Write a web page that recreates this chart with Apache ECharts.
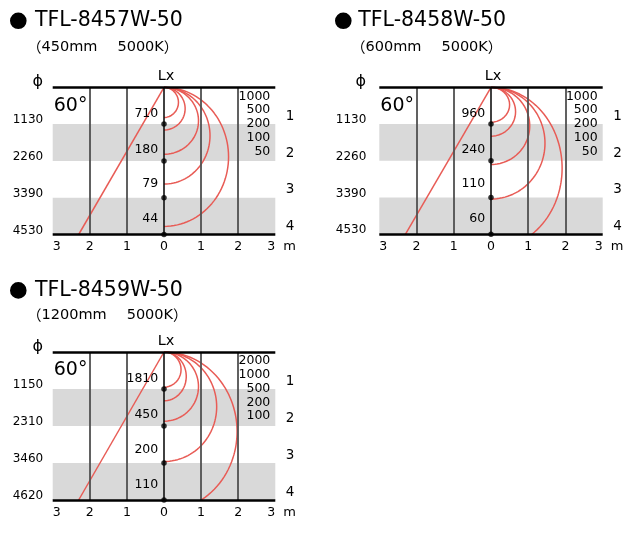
<!DOCTYPE html>
<html><head><meta charset="utf-8">
<script src="https://cdn.jsdelivr.net/npm/echarts/dist/echarts.min.js"></script>
<style>html,body{margin:0;padding:0;background:#fff}#c{width:640px;height:537px}</style>
</head><body><div id="c"></div>
<script>
// ---- data ----
const models = ['TFL-8457W-50', 'TFL-8458W-50', 'TFL-8459W-50'];
const specs = ['（450mm　5000K）', '（600mm　5000K）', '（1200mm　5000K）'];
const depthTicks = [1, 2, 3, 4];              // m below the fixture
const rightTickLabels = ['1', '2', '3', '4'];
const beamAngleLabel = '60°';
const diam1 = [1130, 2260, 3390, 4530];       // φ (mm) at each depth
const diam2 = [1130, 2260, 3390, 4530];
const diam3 = [1150, 2310, 3460, 4620];
const lux1 = [710, 180, 79, 44];              // centre illuminance (lx)
const lux2 = [960, 240, 110, 60];
const lux3 = [1810, 450, 200, 110];
const levels1 = [1000, 500, 200, 100, 50];    // isolux levels (lx)
const levels2 = [1000, 500, 200, 100, 50];
const levels3 = [2000, 1000, 500, 200, 100];
const isoDepth1 = [0.82, 1.16, 1.82, 2.63, 3.78]; // depth (m) where each isolux curve meets the axis
const isoWidth1 = [0.39, 0.57, 0.93, 1.24, 1.74]; // max half-width (m) of each isolux curve
const isoDepth2 = [0.95, 1.33, 2.10, 3.04, 4.40];
const isoWidth2 = [0.50, 0.66, 1.04, 1.45, 1.91];
const isoDepth3 = [0.95, 1.32, 1.87, 2.96, 4.30];
const isoWidth3 = [0.46, 0.60, 0.93, 1.42, 1.97];
const beamEdgeX = [-2.3, -2.3, -2.3];         // beam edge line reaches this x at 4 m

// ---- layout / style ----
const FONT = 'DejaVu Sans';
const RED = '#e85c56';
const INK = '#000';
const panels = [
  {model: models[0], spec: specs[0], diam: diam1, lux: lux1, levels: levels1, isoD: isoDepth1, isoW: isoWidth1, beam: beamEdgeX[0],
   left: 52.7, top: 87.3, gw: 222.6, gh: 147.2, bulletX: 18.3, titleX: 35, titleY: 20.8, subX: 27, subY: 47.7, lm: 9.5},
  {model: models[1], spec: specs[1], diam: diam2, lux: lux2, levels: levels2, isoD: isoDepth2, isoW: isoWidth2, beam: beamEdgeX[1],
   left: 379.3, top: 87.3, gw: 223.4, gh: 147.0, bulletX: 343.3, titleX: 358.3, titleY: 20.8, subX: 351, subY: 47.7, lm: 13},
  {model: models[2], spec: specs[2], diam: diam3, lux: lux3, levels: levels3, isoD: isoDepth3, isoW: isoWidth3, beam: beamEdgeX[2],
   left: 52.7, top: 352, gw: 222.6, gh: 148, bulletX: 18.3, titleX: 35, titleY: 290.4, subX: 27, subY: 315, lm: 9.5}
];
const luxOffsets = [-10, -11, -13.5, -15.5];

function arcPoints(depth, halfWidth) {
  const pts = [];
  for (let k = 0; k <= 120; k++) {
    const t = Math.PI * k / 120;
    pts.push([halfWidth * Math.sin(t), depth / 2 * (1 - Math.cos(t))]);
  }
  return pts;
}
// full-width brackets / space drawn with the CJK font
function richSpec(s) {
  return s.replace(/[（）]/g, c => '{w|' + c + '}').replace(/　/g, '{sp|　}');
}

const grid = [], xAxis = [], yAxis = [], series = [], graphic = [];
panels.forEach((p, i) => {
  grid.push({left: p.left, top: p.top, width: p.gw, height: p.gh});
  xAxis.push({
    type: 'value', gridIndex: i, min: -3, max: 3, interval: 1, position: 'bottom',
    axisLine: {show: false, onZero: false}, axisTick: {show: false}, splitLine: {show: false},
    axisLabel: {formatter: v => String(Math.abs(v)), fontSize: 12.5, fontFamily: FONT, color: INK, margin: 6,
                alignMinLabel: 'left', alignMaxLabel: 'right'},
    name: 'm', nameLocation: 'end', nameGap: 8,
    nameTextStyle: {fontSize: 13, fontFamily: FONT, color: INK, verticalAlign: 'top', padding: [6, 0, 0, 0]}
  });
  yAxis.push({
    type: 'value', gridIndex: i, min: 0, max: 4, interval: 1, inverse: true,
    axisLine: {show: false, onZero: false}, axisTick: {show: false}, splitLine: {show: false},
    axisLabel: {formatter: v => v === 0 ? '' : String(p.diam[depthTicks.indexOf(v)]), fontSize: 12, fontFamily: FONT,
                color: INK, margin: p.lm, verticalAlign: 'bottom', lineHeight: 8}
  });
  yAxis.push({
    type: 'value', gridIndex: i, min: 0, max: 4, interval: 1, inverse: true, position: 'right',
    axisLine: {show: false, onZero: false}, axisTick: {show: false}, splitLine: {show: false},
    axisLabel: {formatter: v => v === 0 ? '' : rightTickLabels[depthTicks.indexOf(v)], fontSize: 13.5, fontFamily: FONT,
                color: INK, margin: 10.5, verticalAlign: 'bottom', lineHeight: 15.5}
  });
  const xi = i, yi = 2 * i;
  // grey bands
  series.push({
    type: 'line', xAxisIndex: xi, yAxisIndex: yi, data: [], silent: true, z: 1,
    markArea: {silent: true, itemStyle: {color: '#d9d9d9'},
      data: [[{yAxis: 1}, {yAxis: 2}], [{yAxis: 3}, {yAxis: 4}]]}
  });
  // vertical grid lines
  series.push({
    type: 'line', xAxisIndex: xi, yAxisIndex: yi, data: [], silent: true, z: 2,
    markLine: {silent: true, symbol: ['none', 'none'], label: {show: false}, animation: false,
      lineStyle: {color: '#505050', width: 1.8, type: 'solid'},
      data: [{xAxis: -2}, {xAxis: -1}, {xAxis: 1}, {xAxis: 2}]}
  });
  // isolux curves
  p.isoD.forEach((d, k) => {
    series.push({
      type: 'line', name: p.levels[k] + ' lx', xAxisIndex: xi, yAxisIndex: yi, z: 3,
      data: arcPoints(d, p.isoW[k]), showSymbol: false, smooth: false, clip: true, silent: true,
      lineStyle: {color: RED, width: 1.5}
    });
  });
  // beam edge line
  series.push({
    type: 'line', xAxisIndex: xi, yAxisIndex: yi, z: 3, data: [[0, 0], [p.beam, 4]],
    showSymbol: false, clip: true, silent: true, lineStyle: {color: RED, width: 1.5}
  });
  // centre axis, top and bottom lines
  series.push({
    type: 'line', xAxisIndex: xi, yAxisIndex: yi, data: [], silent: true, z: 4,
    markLine: {silent: true, symbol: ['none', 'none'], label: {show: false}, animation: false,
      data: [
        {xAxis: 0, lineStyle: {color: '#111', width: 1.6, type: 'solid'}},
        {yAxis: 0, lineStyle: {color: '#000', width: 2.6, type: 'solid'}},
        {yAxis: 4, lineStyle: {color: '#000', width: 2.6, type: 'solid'}}
      ]}
  });
  // centre dots with lux values
  series.push({
    type: 'scatter', xAxisIndex: xi, yAxisIndex: yi, z: 5, silent: true,
    data: depthTicks.map((d, k) => ({value: [0, d], label: {offset: [0, luxOffsets[k]]}})),
    symbolSize: 5.5, itemStyle: {color: '#000'},
    label: {show: true, position: 'left', distance: 3, fontSize: 12.5, fontFamily: FONT, color: INK,
            textBorderWidth: 0, opacity: 1, formatter: prm => String(p.lux[prm.dataIndex])}
  });

  const cx = p.left + p.gw / 2;
  const z = 50;
  graphic.push({type: 'circle', z, shape: {cx: p.bulletX, cy: p.titleY, r: 8.3}, style: {fill: '#000'}});
  graphic.push({type: 'text', z, x: p.titleX, y: p.titleY,
    style: {text: p.model, fontSize: 20.5, fontFamily: FONT, fill: INK, textAlign: 'left', textVerticalAlign: 'middle'}});
  graphic.push({type: 'text', z, x: p.subX, y: p.subY,
    style: {text: richSpec(p.spec), fontSize: 14.5, fontFamily: FONT, fill: INK, textAlign: 'left', textVerticalAlign: 'middle',
      rich: {
        w: {fontSize: 14.5, fontFamily: '"Noto Sans CJK JP"', fill: INK},
        sp: {fontSize: 20, fontFamily: '"Noto Sans CJK JP"', fill: INK}
      }}});
  graphic.push({type: 'text', z, x: cx + 2, y: p.top - 10.8,
    style: {text: 'Lx', fontSize: 14.5, fontFamily: FONT, fill: INK, textAlign: 'center', textVerticalAlign: 'middle'}});
  graphic.push({type: 'text', z, x: p.left - p.lm - 5.5, y: p.top - 5,
    style: {text: 'ϕ', fontSize: 16, fontFamily: FONT, fill: INK, textAlign: 'center', textVerticalAlign: 'middle'}});
  graphic.push({type: 'text', z, x: p.left + 1, y: p.top + 18.5,
    style: {text: beamAngleLabel, fontSize: 19, fontFamily: FONT, fill: INK, textAlign: 'left', textVerticalAlign: 'middle'}});
  p.levels.forEach((lv, k) => {
    graphic.push({type: 'text', z, x: p.left + p.gw - 5, y: p.top + 9 + 13.8 * k,
      style: {text: String(lv), fontSize: 12.5, fontFamily: FONT, fill: INK, textAlign: 'right', textVerticalAlign: 'middle'}});
  });
});

const chart = echarts.init(document.getElementById('c'), null, {renderer: 'canvas'});
chart.setOption({
  animation: false,
  backgroundColor: '#fff',
  textStyle: {fontFamily: FONT},
  grid, xAxis, yAxis, series, graphic
});
</script></body></html>
